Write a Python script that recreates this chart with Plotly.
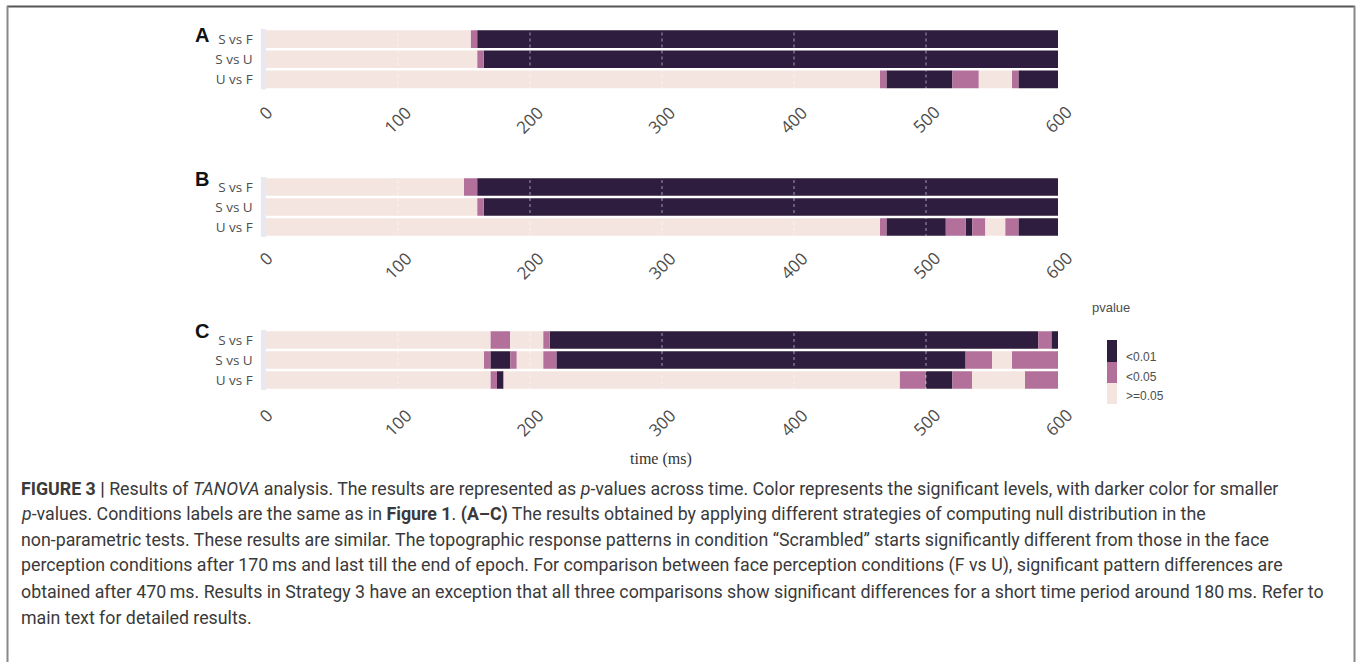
import plotly.graph_objects as go

W, H = 1358, 662

# ---------------- data ----------------
rows = ["S vs F", "S vs U", "U vs F"]
panels = ["A", "B", "C"]
levels = ["<0.01", "<0.05", ">=0.05"]
level_colors = ["#2e1d3e", "#b3709a", "#f5e5e0"]
xticks = [0, 100, 200, 300, 400, 500, 600]
# level code per segment: 0 = <0.01, 1 = <0.05, 2 = >=0.05 ; edges in ms

A_SvF_edges = [0, 155, 160, 600]
A_SvF_lev = [2, 1, 0]
A_SvU_edges = [0, 160, 165, 600]
A_SvU_lev = [2, 1, 0]
A_UvF_edges = [0, 465, 470, 520, 540, 565, 570, 600]
A_UvF_lev = [2, 1, 0, 1, 2, 1, 0]

B_SvF_edges = [0, 150, 160, 600]
B_SvF_lev = [2, 1, 0]
B_SvU_edges = [0, 160, 165, 600]
B_SvU_lev = [2, 1, 0]
B_UvF_edges = [0, 465, 470, 515, 530, 535, 545, 560, 570, 600]
B_UvF_lev = [2, 1, 0, 1, 0, 1, 2, 1, 0]

C_SvF_edges = [0, 170, 185, 210, 215, 585, 595, 600]
C_SvF_lev = [2, 1, 2, 1, 0, 1, 0]
C_SvU_edges = [0, 165, 170, 185, 190, 210, 220, 530, 550, 565, 600]
C_SvU_lev = [2, 1, 0, 1, 2, 1, 0, 1, 2, 1]
C_UvF_edges = [0, 170, 175, 180, 480, 500, 520, 535, 575, 600]
C_UvF_lev = [2, 1, 0, 2, 1, 0, 1, 2, 1]

panel_data = {
    "A": [(A_SvF_edges, A_SvF_lev), (A_SvU_edges, A_SvU_lev), (A_UvF_edges, A_UvF_lev)],
    "B": [(B_SvF_edges, B_SvF_lev), (B_SvU_edges, B_SvU_lev), (B_UvF_edges, B_UvF_lev)],
    "C": [(C_SvF_edges, C_SvF_lev), (C_SvU_edges, C_SvU_lev), (C_UvF_edges, C_UvF_lev)],
}

caption_lines = [
    "<b>FIGURE 3 |</b> Results of <i>TANOVA</i> analysis. The results are represented as <i>p</i>-values across time. Color represents the significant levels, with darker color for smaller",
    "<i>p</i>-values. Conditions labels are the same as in <b>Figure 1</b>. <b>(A\u2013C)</b> The results obtained by applying different strategies of computing null distribution in the",
    "non-parametric tests. These results are similar. The topographic response patterns in condition \u201cScrambled\u201d starts significantly different from those in the face",
    "perception conditions after 170\u2009ms and last till the end of epoch. For comparison between face perception conditions (F vs U), significant pattern differences are",
    "obtained after 470\u2009ms. Results in Strategy 3 have an exception that all three comparisons show significant differences for a short time period around 180\u2009ms. Refer to",
    "main text for detailed results.",
]

# ---------------- layout helpers ----------------
def px(x):
    return x / W

def py(y):
    return 1 - y / H

x_dom = [px(260.7), px(1058)]
y_doms = {"A": (29, 89.5), "B": (177, 237), "C": (330, 390)}
letter_y = {"A": 34.5, "B": 179, "C": 330.5}
tick_off = {"A": 9, "B": 7, "C": 11}

TXT = "#4d4d4d"
CHART_FONT = "Open Sans, DejaVu Sans, sans-serif"

fig = go.Figure()
layout = dict(
    width=W, height=H,
    margin=dict(l=0, r=0, t=0, b=0),
    paper_bgcolor="white", plot_bgcolor="white",
    showlegend=False, barmode="overlay",
)
shapes = []
annotations = []

for i, p in enumerate(panels):
    n = "" if i == 0 else str(i + 1)
    xa, ya = "x" + n, "y" + n
    for lev_i, lev in enumerate(levels):
        ys, bases, lens = [], [], []
        for r, (edges, levs) in zip(rows, panel_data[p]):
            for k, lv in enumerate(levs):
                if lv == lev_i:
                    ys.append(r)
                    bases.append(edges[k])
                    lens.append(edges[k + 1] - edges[k])
        if ys:
            fig.add_trace(go.Bar(
                orientation="h", y=ys, x=lens, base=bases, width=0.875,
                marker=dict(color=level_colors[lev_i], line=dict(width=0)),
                xaxis=xa, yaxis=ya, name=lev, hoverinfo="skip",
            ))
    top, bot = y_doms[p]
    layout["xaxis" + n] = dict(
        domain=x_dom, range=[-4, 600], anchor=ya,
        showgrid=False, zeroline=False, showline=False,
        showticklabels=False, ticks="", fixedrange=True,
    )
    layout["yaxis" + n] = dict(
        domain=[py(bot), py(top)], anchor=xa, type="category",
        categoryorder="array", categoryarray=rows, range=[2.5, -0.5],
        showgrid=False, zeroline=False, showline=False, ticks="",
        tickfont=dict(family=CHART_FONT, size=13.5, color=TXT),
        ticklabelstandoff=7, fixedrange=True,
    )
    # axes background strip before t=0
    shapes.append(dict(type="rect", xref=xa, yref=ya + " domain", x0=-4, x1=0,
                       y0=0, y1=1, fillcolor="#e8e8f1", line=dict(width=0), layer="below"))
    # grid lines
    for t in xticks[1:-1]:
        shapes.append(dict(type="line", xref=xa, yref=ya + " domain", x0=t, x1=t,
                           y0=0, y1=1, layer="above",
                           line=dict(color="rgba(255,255,255,0.55)", width=1, dash="dot")))
    # rotated tick labels
    for t in xticks:
        annotations.append(dict(
            x=t, xref=xa, y=py(bot + tick_off[p]), yref="paper",
            text=str(t), showarrow=False, textangle=-45,
            xanchor="center", yanchor="top",
            font=dict(family=CHART_FONT, size=17, color=TXT),
        ))
    # panel letter
    annotations.append(dict(
        x=px(202), y=py(letter_y[p]), xref="paper", yref="paper",
        text="<b>%s</b>" % p, showarrow=False, xanchor="center", yanchor="middle",
        font=dict(family="Liberation Sans, Arial, sans-serif", size=20, color="#111111"),
    ))

# x-axis title
annotations.append(dict(
    x=px(661), y=py(459), xref="paper", yref="paper", text="time (ms)",
    showarrow=False, xanchor="center", yanchor="middle",
    font=dict(family="Liberation Serif, DejaVu Serif, serif", size=16, color="#333333"),
))

# legend (pvalue)
annotations.append(dict(
    x=px(1090), y=py(307), xref="paper", yref="paper", text="pvalue",
    showarrow=False, xanchor="left", yanchor="middle",
    font=dict(family="Liberation Sans, Arial, sans-serif", size=13, color=TXT),
))
sw_top = [340, 362, 383]
sw_bot = [362, 383, 404]
lab_y = [357, 377, 396]
for k, lev in enumerate(levels):
    shapes.append(dict(type="rect", xref="paper", yref="paper",
                       x0=px(1107), x1=px(1117), y0=py(sw_bot[k]), y1=py(sw_top[k]),
                       fillcolor=level_colors[k], line=dict(width=0)))
    annotations.append(dict(
        x=px(1124), y=py(lab_y[k]), xref="paper", yref="paper",
        text=lev.replace("<", "&lt;").replace(">", "&gt;"),
        showarrow=False, xanchor="left", yanchor="middle",
        font=dict(family="Liberation Sans, Arial, sans-serif", size=12, color=TXT),
    ))

# caption
cap_y = [488, 513.5, 539, 565, 591, 617]
for txt, yy in zip(caption_lines, cap_y):
    annotations.append(dict(
        x=px(19), y=py(yy), xref="paper", yref="paper", text=txt,
        showarrow=False, xanchor="left", yanchor="middle",
        font=dict(family="Roboto, Liberation Sans, sans-serif", size=17.8, color="#3a3a3a"),
    ))

# frame
shapes.append(dict(type="line", xref="paper", yref="paper", x0=px(7), x1=px(1355),
                   y0=py(6.5), y1=py(6.5), line=dict(color="#555555", width=2)))
shapes.append(dict(type="line", xref="paper", yref="paper", x0=px(7.5), x1=px(7.5),
                   y0=py(6), y1=py(662), line=dict(color="#888888", width=2)))
shapes.append(dict(type="line", xref="paper", yref="paper", x0=px(1354.5), x1=px(1354.5),
                   y0=py(6), y1=py(662), line=dict(color="#888888", width=2)))

layout["shapes"] = shapes
layout["annotations"] = annotations
fig.update_layout(**layout)
fig.write_html(
    "out.html",
    config={"displayModeBar": False},
    post_script="document.body.style.margin='0px';document.body.style.overflow='hidden';",
)
